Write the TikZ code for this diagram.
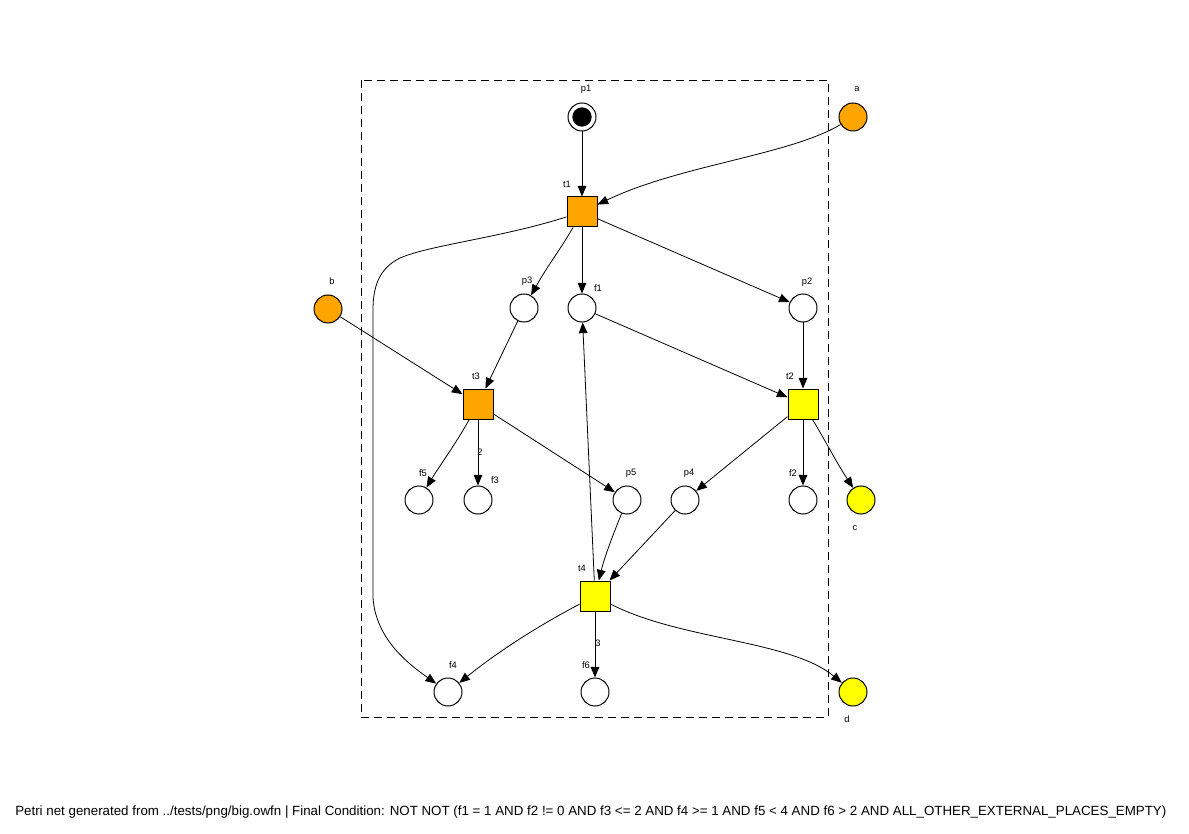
\documentclass[tikz,border=0pt]{standalone}
\usepackage{fontspec}
\setmainfont{Liberation Sans}
\usetikzlibrary{arrows.meta}

\begin{document}
\begin{tikzpicture}[x=0.75pt,y=0.75pt,yscale=-1,xscale=1,
  place/.style={circle,draw,line width=0.75pt,minimum size=21pt,inner sep=0pt},
  trans/.style={rectangle,draw,line width=0.75pt,minimum size=22.5pt,inner sep=0pt},
  lbl/.style={inner sep=0pt,font=\fontsize{7}{8}\selectfont},
  arc/.style={-{Triangle[length=8pt,width=6.5pt]},line width=0.6pt},
  wgt/.style={inner sep=0pt,font=\fontsize{7}{8}\selectfont}]
\useasboundingbox (0,0) rectangle (1189,834);

%Shape: Rectangle (interface border)
\draw [dash pattern=on 6pt off 3.75pt,line width=0.6pt] (361,80) rectangle (828,717);

%Places
\node [place] (p1) at (582,117) {};
\node [circle,fill=black,minimum size=14.5pt,inner sep=0pt] (p1tok) at (582,117) {};
\node [place,fill={rgb,255:red,255;green,165;blue,0}] (a) at (853,117) {};
\node [place,fill={rgb,255:red,255;green,165;blue,0}] (b) at (328,309) {};
\node [place] (p3) at (524,308) {};
\node [place] (f1) at (582,308) {};
\node [place] (p2) at (803,308) {};
\node [place] (f5) at (419,500) {};
\node [place] (f3) at (478,500) {};
\node [place] (p5) at (627,500) {};
\node [place] (p4) at (685,500) {};
\node [place] (f2) at (803,500) {};
\node [place,fill={rgb,255:red,255;green,255;blue,0}] (c) at (861,500) {};
\node [place] (f4) at (448,692) {};
\node [place] (f6) at (595,692) {};
\node [place,fill={rgb,255:red,255;green,255;blue,0}] (d) at (853,692) {};

%Transitions
\node [trans,fill={rgb,255:red,255;green,165;blue,0}] (t1) at (582,212) {};
\node [trans,fill={rgb,255:red,255;green,165;blue,0}] (t3) at (478,404) {};
\node [trans,fill={rgb,255:red,255;green,255;blue,0}] (t2) at (803,404) {};
\node [trans,fill={rgb,255:red,255;green,255;blue,0}] (t4) at (595,596) {};

%Arcs
\draw [arc] (p1) -- (t1);
\draw [arc] (a) .. controls (790,155) and (680,165) .. (t1);
\draw [arc] (t1) .. controls (560,250) and (548,265) .. (p3);
\draw [arc] (t1) -- (f1);
\draw [arc] (t1) -- (p2);
\draw [arc] (t1) .. controls (500,238) and (430,245) .. (400,258) .. controls (380,268) and (373,285) .. (373,310) -- (373,598) .. controls (376,640) and (410,665) .. (f4);
\draw [arc] (b) -- (t3);
\draw [arc] (p3) -- (t3);
\draw [arc] (f1) -- (t2);
\draw [arc] (p2) -- (t2);
\draw [arc] (t3) .. controls (455,445) and (440,465) .. (f5);
\draw [arc] (t3) -- (f3);
\draw [arc] (t3) -- (p5);
\draw [arc] (t2) -- (p4);
\draw [arc] (t2) -- (f2);
\draw [arc] (t2) .. controls (825,440) and (835,460) .. (c);
\draw [arc] (p5) .. controls (615,530) and (605,555) .. (t4);
\draw [arc] (p4) -- (t4);
\draw [arc] (t4) -- (f1);
\draw [arc] (t4) .. controls (540,625) and (500,650) .. (f4);
\draw [arc] (t4) -- (f6);
\draw [arc] (t4) .. controls (680,640) and (790,640) .. (d);

% Text Node
\draw (586,89) node [lbl] (lp1) {p1};
\draw (857,89) node [lbl] (la) {a};
\draw (332,281) node [lbl] (lb) {b};
\draw (567,184) node [lbl] (lt1) {t1};
\draw (527,281) node [lbl] (lp3) {p3};
\draw (598,288) node [lbl] (lf1) {f1};
\draw (807,282) node [lbl] (lp2) {p2};
\draw (476,376) node [lbl] (lt3) {t3};
\draw (790,376) node [lbl] (lt2) {t2};
\draw (423,473) node [lbl] (lf5) {f5};
\draw (495,480) node [lbl] (lf3) {f3};
\draw (631,473) node [lbl] (lp5) {p5};
\draw (689,473) node [lbl] (lp4) {p4};
\draw (793,473) node [lbl] (lf2) {f2};
\draw (855,528) node [lbl] (lc) {c};
\draw (582,568) node [lbl] (lt4) {t4};
\draw (453,665) node [lbl] (lf4) {f4};
\draw (586,665) node [lbl] (lf6) {f6};
\draw (847,719) node [lbl] (ld) {d};
\draw (480,452) node [wgt] (w2) {2};
\draw (598,643) node [wgt] (w3) {3};
\draw (15,815) node [anchor=base west,inner sep=0pt,font=\fontsize{10}{12}\selectfont] (cap) {Petri net generated from ../tests/png/big.owfn | Final Condition: NOT NOT (f1 = 1 AND f2 != 0 AND f3 <= 2 AND f4 >= 1 AND f5 < 4 AND f6 > 2 AND ALL\_OTHER\_EXTERNAL\_PLACES\_EMPTY)};

\end{tikzpicture}
\end{document}
